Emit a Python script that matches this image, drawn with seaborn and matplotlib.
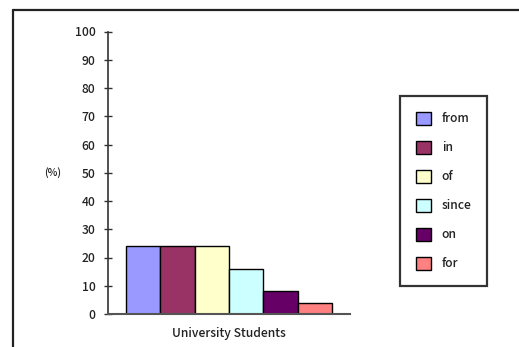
import matplotlib
matplotlib.use("Agg")
import matplotlib.pyplot as plt
from matplotlib.lines import Line2D
import seaborn as sns
import pandas as pd

# Share of each preposition among university students (%)
words = ["from", "in", "of", "since", "on", "for"]
percent = [24, 24, 24, 16, 8, 4]
group = ["University Students"] * len(words)
colors = ["#9999FF", "#993366", "#FFFFCC", "#CCFFFF", "#660066", "#FF8080"]
yticks = list(range(0, 101, 10))

sns.set_theme(style="white")
plt.rcParams["font.family"] = ["Noto Sans CJK JP", "DejaVu Sans"]
plt.rcParams["font.weight"] = "medium"
plt.rcParams["text.color"] = "#222222"
plt.rcParams["xtick.color"] = "#222222"
plt.rcParams["ytick.color"] = "#222222"

df = pd.DataFrame({"group": group, "word": words, "percent": percent})

W, H = 519, 347
fig = plt.figure(figsize=(W / 100, H / 100), dpi=100)
ax = fig.add_axes([108 / W, 1 - 314 / H, (350 - 108) / W, (314 - 31.5) / H])

sns.barplot(data=df, x="group", y="percent", hue="word", hue_order=words,
            palette=colors, width=0.855, gap=0, edgecolor="black",
            linewidth=1.0, saturation=1, ax=ax, legend=True)

ax.set_xlim(-0.5, 0.5)
ax.set_ylim(0, 100)
ax.set_yticks(yticks)
ax.set_xlabel("")
ax.set_ylabel("")
for s in ["top", "right"]:
    ax.spines[s].set_visible(False)
ax.spines["left"].set_color("#333333")
ax.spines["bottom"].set_color("#555555")
ax.spines["left"].set_linewidth(1.2)
ax.spines["bottom"].set_linewidth(1.5)
ax.tick_params(axis="y", direction="inout", length=6, width=1, color="#333333",
               pad=6, labelsize=8.7, left=True)
ax.tick_params(axis="x", length=0, pad=9, labelsize=8.7)

fig.text(53 / W, 1 - 173 / H, "(%)", fontsize=7.5, ha="center", va="center")

leg = ax.legend(loc="upper left", bbox_to_anchor=(400 / W, 1 - 96 / H),
                bbox_transform=fig.transFigure, fontsize=8.7, frameon=True,
                fancybox=False, handlelength=1.3, handleheight=1.3,
                labelspacing=1.27, handletextpad=0.85, borderpad=1.3,
                borderaxespad=0)
leg.get_frame().set_edgecolor("black")
leg.get_frame().set_linewidth(1.6)
for h in leg.legend_handles:
    h.set_edgecolor("black")
    h.set_linewidth(1.0)

# outer chart border (top and left edges)
fig.add_artist(Line2D([13 / W, 1], [1 - 10 / H, 1 - 10 / H], transform=fig.transFigure,
                      color="#222222", lw=1.6))
fig.add_artist(Line2D([13 / W, 13 / W], [0, 1 - 10 / H], transform=fig.transFigure,
                      color="#222222", lw=1.6))

fig.savefig("out.png", dpi=100)
